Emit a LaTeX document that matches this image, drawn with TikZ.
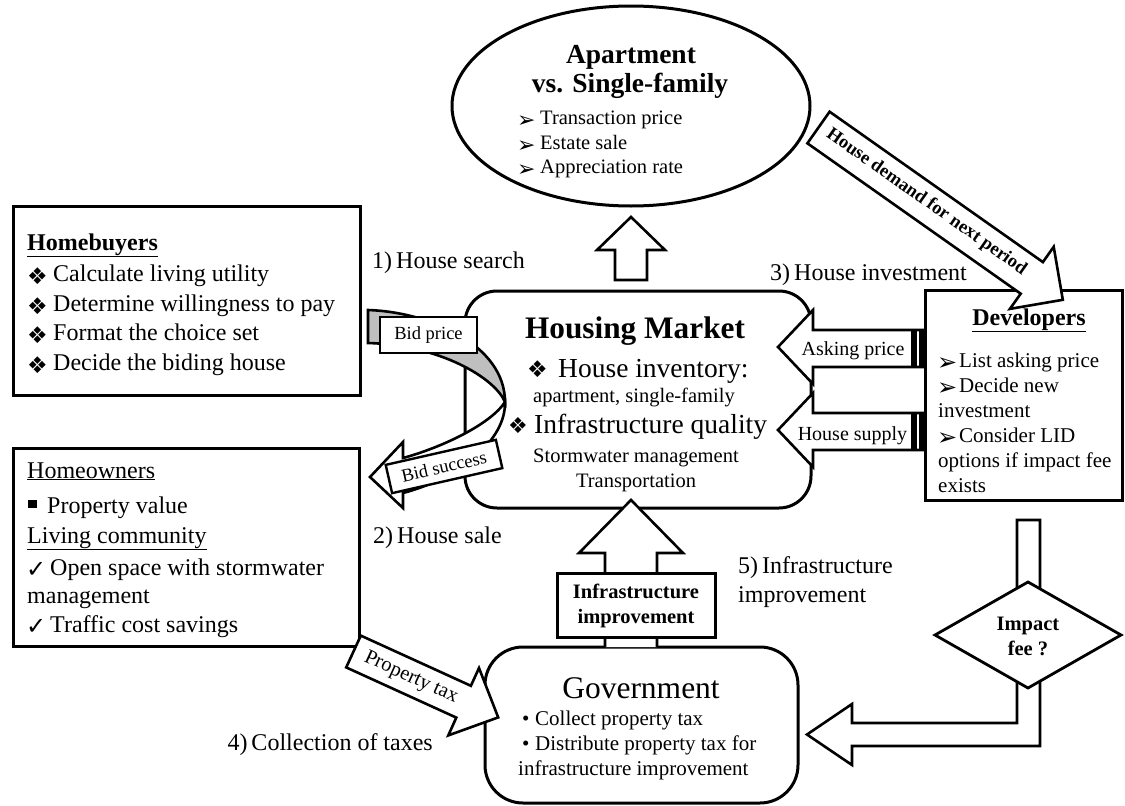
\documentclass[tikz,border=0pt]{standalone}
\usepackage{fontspec}
\setmainfont{Liberation Serif}
\newfontfamily\symf{DejaVu Sans}
\usetikzlibrary{shapes.geometric}
\newcommand\myfs[1]{\fontsize{#1}{#1}\selectfont}
\newcommand\dia[2]{\raisebox{#2}{\symf\myfs{#1}❖}}
\newcommand\arrw[2]{\raisebox{#2}{\symf\myfs{#1}➢}}
\newcommand\chk[2]{\raisebox{#2}{\symf\myfs{#1}✓}}
\begin{document}
\begin{tikzpicture}[x=1pt,y=-1pt,line join=miter,
  box/.style={draw,line width=3pt,inner sep=0pt},
  blk/.style={draw,fill=white,line width=2.6pt},
  lbl/.style={draw,fill=white,line width=2.4pt,inner sep=0pt},
  tx/.style={inner sep=0pt,anchor=base west},
  tc/.style={inner sep=0pt,anchor=base},
  te/.style={inner sep=0pt,anchor=base east},
  f24/.style={font=\myfs{24}},
  f21/.style={font=\myfs{21}},
  f20/.style={font=\myfs{20.5}}]
\useasboundingbox (0,0) rectangle (1125,806);
\fill[white] (0,0) rectangle (1125,806);

% ---------- main boxes ----------
\node[box,minimum width=347pt,minimum height=189pt] (hb) at (186.5,300.5) {};
\node[box,minimum width=346pt,minimum height=198pt] (ho) at (186,547) {};
\node[box,minimum width=197pt,minimum height=210pt] (dev) at (1023.5,395) {};
\node[box,rounded corners=32pt,minimum width=346pt,minimum height=217pt] (hm) at (638,399.5) {};
\node[box,rounded corners=38pt,minimum width=313pt,minimum height=156pt] (gov) at (641.5,725) {};
\node[box,ellipse,minimum width=358pt,minimum height=200pt] (apt) at (631,106) {};

% ---------- up arrow to ellipse ----------
\draw[blk] (615,280) -- (615,250) -- (597,250) -- (631,217) -- (665,250) -- (647,250) -- (647,280) -- cycle;

% ---------- curved bid arrow ----------
\draw[line width=2.6pt,fill=black!25] (368,310) .. controls (430,312) and (505,345) .. (505,402)
   .. controls (495,378) and (440,345) .. (368,343) -- cycle;
\draw[blk] (505,402) .. controls (506,440) and (460,478) .. (403,493) -- (403,508) -- (370,477)
   -- (403,442) -- (403,458) .. controls (440,448) and (490,425) .. (505,402) -- cycle;
\node[lbl,minimum width=97pt,minimum height=36pt,font=\myfs{18.5}] (bp) at (428.5,335) {Bid price};
\node[lbl,minimum width=113pt,minimum height=29pt,rotate=12.8,font=\myfs{18.5}] (bs) at (444,466.5) {Bid success};

% ---------- asking price / house supply ----------
\draw[blk] (923,330) -- (813,330) -- (813,310) -- (778,347) -- (813,384) -- (813,367) -- (923,367) -- cycle;
\draw[blk] (923,413) -- (813,413) -- (813,393) -- (778,430) -- (813,467) -- (813,450) -- (923,450) -- cycle;
\fill (911,330) rectangle (917,367);
\fill (919,330) rectangle (923,367);
\fill (911,413) rectangle (917,450);
\fill (919,413) rectangle (923,450);
\node[tc,font=\myfs{20}] (ap) at (853,355) {Asking price};
\node[tc,font=\myfs{20}] (hs) at (852.5,440) {House supply};

% ---------- house demand arrow ----------
\draw[blk] (829.6,111.7) -- (1042.9,262.1) -- (1053.7,246.8) -- (1062.8,299.8) -- (1009.9,308.9)
   -- (1020.7,293.7) -- (807.4,143.3) -- cycle;
\node[inner sep=0pt,rotate=-35.2,font=\myfs{18.5}\bfseries] (hd) at (926.5,202) {House demand for next period};

% ---------- infrastructure improvement arrow ----------
\draw[blk] (605,647) -- (605,553) -- (579,553) -- (631,500) -- (683,553) -- (657,553) -- (657,647);
\node[lbl,line width=3pt,minimum width=158pt,minimum height=64pt] (iib) at (636,605) {};
\node[tc,font=\myfs{20.5}\bfseries] (ii1) at (636,598) {Infrastructure};
\node[tc,font=\myfs{20.5}\bfseries] (ii2) at (636,623) {improvement};

% ---------- property tax arrow ----------
\draw[blk] (360.8,635.6) -- (470.9,685.8) -- (479.0,668.0) -- (498.2,717.4) -- (448.3,735.4)
   -- (456.3,717.6) -- (346.2,667.4) -- cycle;
\node[inner sep=0pt,rotate=-24.5,font=\myfs{20.5}] (pt) at (411,678) {Property tax};

% ---------- impact fee ----------
\draw[blk] (1017,520) -- (1040,520) -- (1040,746) -- (852,746) -- (852,765) -- (807,734.5)
   -- (852,704) -- (852,723) -- (1017,723) -- cycle;
\draw[blk,line width=2.8pt] (1028,582) -- (1121,635) -- (1028,688) -- (935,635) -- cycle;
\node[tc,font=\myfs{20.5}\bfseries] (if1) at (1028,630) {Impact};
\node[tc,font=\myfs{20.5}\bfseries] (if2) at (1028,655) {fee ?};

% ---------- ellipse text ----------
\node[tc,font=\myfs{27.5}\bfseries] (a1) at (631,63) {Apartment};
\node[tc,font=\myfs{27.5}\bfseries] (a2) at (630,92) {vs. Single-family};
\foreach \yy/\tt [count=\i] in {124/Transaction price,149/Estate sale,173/Appreciation rate}{
  \node[tx] (as\i) at (517,\yy) {\arrw{22}{-3pt}};
  \node[tx,font=\myfs{20.5}] (at\i) at (540,\yy) {\tt};
}

% ---------- homebuyers ----------
\node[tx,font=\myfs{24}\bfseries] (hb0) at (27,250) {\underline{Homebuyers}};
\foreach \yy/\tt [count=\i] in {281/Calculate living utility,311/Determine willingness to pay,340/Format the choice set,370/Decide the biding house}{
  \node[tx] (hbs\i) at (27,\yy) {\dia{23}{-3pt}};
  \node[tx,f24] (hbt\i) at (53,\yy) {\tt};
}

% ---------- homeowners ----------
\node[tx,f24] (ho0) at (27,478) {\underline{Homeowners}};
\node[tx] (hosq) at (28,513) {\raisebox{5pt}{\rule{9pt}{8pt}}};
\node[tx,f24] (ho1) at (47,513) {Property value};
\node[tx,f24] (ho2) at (27,543) {\underline{Living community}};
\node[tx] (hoc1) at (26,575) {\chk{24}{-2pt}};
\node[tx,f24] (ho3) at (50,575) {Open space with stormwater};
\node[tx,f24] (ho4) at (27,603) {management};
\node[tx] (hoc2) at (26,632) {\chk{24}{-2pt}};
\node[tx,f24] (ho5) at (50,632) {Traffic cost savings};

% ---------- developers ----------
\node[tc,font=\myfs{24}\bfseries] (dv0) at (1029,325) {\underline{Developers}};
\node[tx] (dva1) at (937,367) {\arrw{24}{-3pt}};
\node[tx,f21] (dv1) at (959,367) {List asking price};
\node[tx] (dva2) at (937,392) {\arrw{24}{-3pt}};
\node[tx,f21] (dv2) at (959,392) {Decide new};
\node[tx,f21] (dv3) at (938,417) {investment};
\node[tx] (dva3) at (937,442) {\arrw{24}{-3pt}};
\node[tx,f21] (dv4) at (959,442) {Consider LID};
\node[tx,f21] (dv5) at (938,467) {options if impact fee};
\node[tx,f21] (dv6) at (938,492) {exists};

% ---------- housing market ----------
\node[tc,font=\myfs{31.3}\bfseries] (hm0) at (635,338) {Housing Market};
\node[tx] (hms1) at (527,377) {\dia{23}{0pt}};
\node[tx,font=\myfs{27.5}] (hm1) at (558,377) {House inventory:};
\node[tx,f20] (hm2) at (533,402) {apartment, single-family};
\node[tx] (hms2) at (508,433) {\dia{22}{0pt}};
\node[tx,font=\myfs{27.5}] (hm3) at (534,433) {Infrastructure quality};
\node[tx,f20] (hm4) at (533,462) {Stormwater management};
\node[tc,f20] (hm5) at (636,487) {Transportation};

% ---------- government ----------
\node[tc,font=\myfs{31.5}] (gv0) at (641,698) {Government};
\node[tx,f21] (gb1) at (522,725) {•};
\node[tx,f21] (gv1) at (535,725) {Collect property tax};
\node[tx,f21] (gb2) at (522,750) {•};
\node[tx,f21] (gv2) at (535,750) {Distribute property tax for};
\node[tx,f21] (gv3) at (518,775) {infrastructure improvement};

% ---------- step labels ----------
\node[tx,f24] (s1) at (372,268) {1)\,House search};
\node[tx,f24] (s2) at (373,543) {2)\,House sale};
\node[tx,f24] (s3) at (770,280) {3)\,House investment};
\node[te,f24] (s4) at (433,750) {4)\,Collection of taxes};
\node[tx,f24] (s5a) at (738,573) {5)\,Infrastructure};
\node[tx,f24] (s5b) at (738,602) {improvement};
\end{tikzpicture}
\end{document}
